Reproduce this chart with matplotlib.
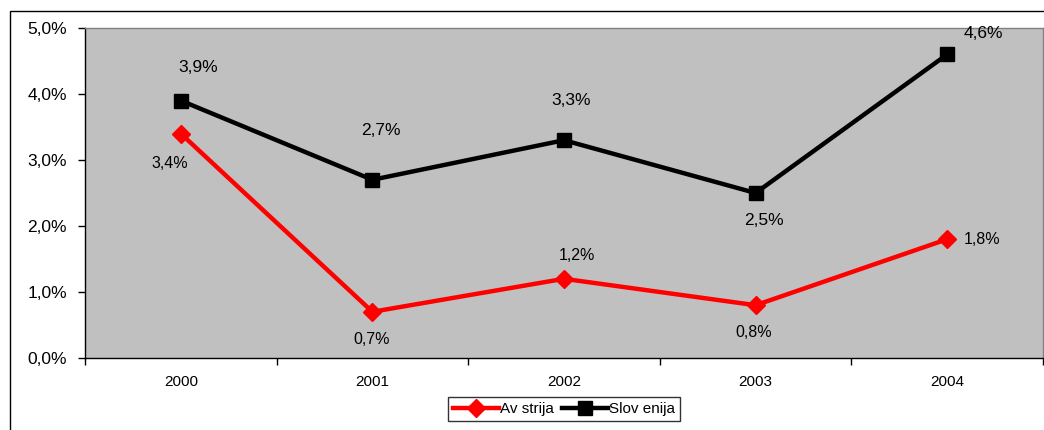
import matplotlib
matplotlib.use("Agg")
import matplotlib.pyplot as plt
from matplotlib.patches import Rectangle

plt.rcParams['font.family'] = ['Liberation Sans', 'DejaVu Sans']

years = ["2000", "2001", "2002", "2003", "2004"]
avstrija = [3.4, 0.7, 1.2, 0.8, 1.8]
slovenija = [3.9, 2.7, 3.3, 2.5, 4.6]
y_ticks = [0.0, 1.0, 2.0, 3.0, 4.0, 5.0]

# label offsets in pixels (dx, dy) relative to each point
offs_avs = [(-11, -30), (-1, -28), (13, 23), (-2, -27), (35, 0)]
offs_slo = [(17, 33), (8, 49), (7, 40), (8, -28), (36, 21)]

fig = plt.figure(figsize=(10.44, 4.30), dpi=100)
W, H = 1044, 430
ax = fig.add_axes([85 / W, 1 - 358 / H, (1043 - 85) / W, (358 - 28) / H])
ax.set_facecolor('#C0C0C0')

# outer chart border
fig.patches.append(Rectangle((10 / W, -0.1), 1.2, 1 - 11 / H + 0.1,
                             transform=fig.transFigure, fill=False,
                             edgecolor='black', linewidth=1.0))

x = list(range(len(years)))
ax.plot(x, avstrija, color='#FF0000', linewidth=3.2, marker='D',
        markersize=9.5, label='Av strija', zorder=3)
ax.plot(x, slovenija, color='black', linewidth=3.2, marker='s',
        markersize=9.5, label='Slov enija', zorder=3)

def fmt(v):
    return f"{v:.1f}%".replace('.', ',')

for xi, v, (dx, dy) in zip(x, avstrija, offs_avs):
    ax.annotate(fmt(v), (xi, v), xytext=(dx, dy), textcoords='offset pixels',
                ha='center', va='center', fontsize=11.5)
for xi, v, (dx, dy) in zip(x, slovenija, offs_slo):
    ax.annotate(fmt(v), (xi, v), xytext=(dx, dy), textcoords='offset pixels',
                ha='center', va='center', fontsize=12.5, annotation_clip=False)

ax.set_xlim(-0.5, len(years) - 0.5)
ax.set_ylim(0, 5)
ax.set_yticks(y_ticks)
ax.set_yticklabels([fmt(v) for v in y_ticks], fontsize=12.5)
ax.set_xticks([i + 0.5 for i in range(-1, len(years))], minor=False)
ax.set_xticklabels([])
ax.set_xticks(x, minor=True)
ax.set_xticklabels(years, minor=True, fontsize=11)
ax.tick_params(axis='x', which='major', length=5, direction='out', width=1)
ax.tick_params(axis='x', which='minor', length=0, pad=12)
ax.tick_params(axis='y', length=5, width=1, pad=8)

for s in ['left', 'bottom']:
    ax.spines[s].set_color('black')
    ax.spines[s].set_linewidth(1.0)
for s in ['top', 'right']:
    ax.spines[s].set_color('#808080')
    ax.spines[s].set_linewidth(1.0)

leg = fig.legend(loc='center', bbox_to_anchor=(564 / W, 1 - 409 / H), ncol=2,
                 frameon=True, fancybox=False, edgecolor='black',
                 fontsize=11, handlelength=3.0, handletextpad=0.1,
                 columnspacing=0.5, borderpad=0.3, borderaxespad=0)
leg.get_frame().set_linewidth(1.0)

fig.savefig('out.png', dpi=100)
